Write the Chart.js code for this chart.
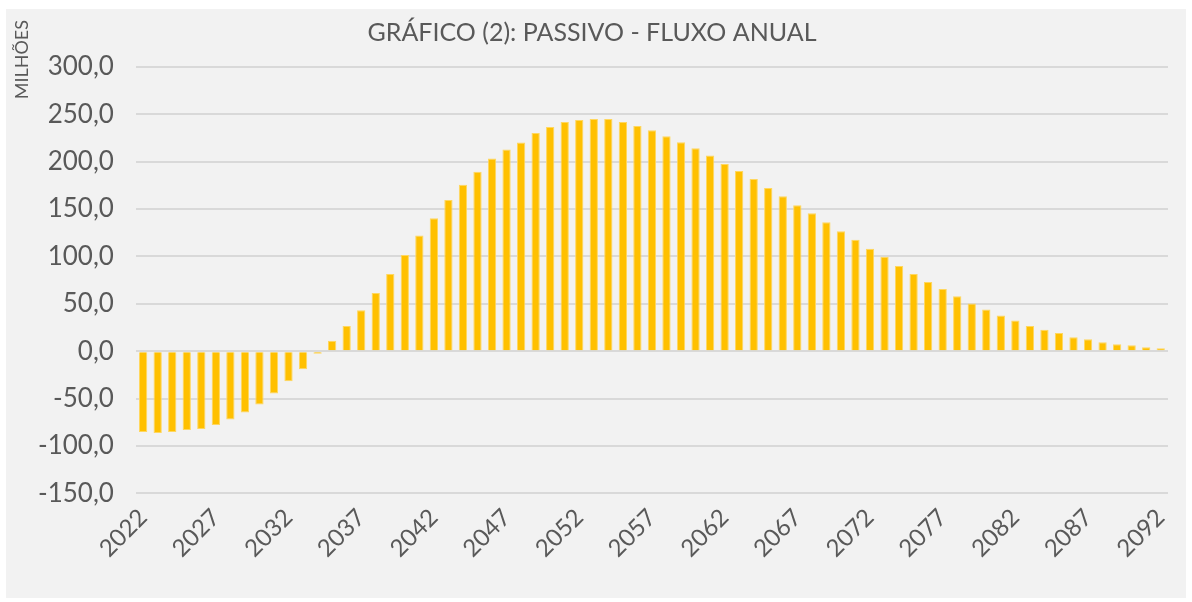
<!DOCTYPE html>
<html>
<head>
<meta charset="utf-8">
<script src="https://cdn.jsdelivr.net/npm/chart.js@4"></script>
<style>
  html, body { margin: 0; padding: 0; background: #ffffff; }
  #wrap { position: absolute; left: 6px; top: 9px; width: 1180px; height: 589px; background: #f2f2f2; }
</style>
</head>
<body>
<div id="wrap"><canvas id="fluxoChart"></canvas></div>
<script>
// Passivo - fluxo anual (milhões)
var firstYear = 2022;
var lastYear = 2092;
var years = [];
for (var y = firstYear; y <= lastYear; y++) years.push(String(y));

var fluxo = [
  -85.3, -86.4, -85.3, -83.2, -82.1, -77.9, -72.2, -64.8, -56.4, -44.7,
  -31.7, -19.0, -2.8, 10.9, 26.7, 43.1, 61.4, 81.5, 101.6, 122.0,
  140.4, 159.7, 175.6, 189.3, 203.4, 212.9, 220.4, 230.3, 236.6, 241.9,
  244.0, 245.1, 245.1, 242.0, 237.6, 233.3, 227.0, 220.6, 214.3, 206.5,
  197.7, 190.3, 181.8, 172.3, 163.5, 154.0, 145.5, 136.0, 126.5, 117.7,
  108.2, 99.7, 90.0, 81.5, 73.0, 65.7, 57.9, 50.4, 44.0, 37.7,
  32.4, 26.7, 22.5, 19.3, 14.8, 12.7, 9.5, 7.4, 6.3, 4.2,
  3.2
];

var yTitle = 'MILHÕES';

// unit label drawn rotated in the top-left corner, like the original
var unitLabel = {
    id: 'unitLabel',
    afterDraw: function (chart) {
        var c = chart.ctx;
        c.save();
        c.translate(16, chart.chartArea.top - 47);
        c.rotate(-Math.PI / 2);
        c.font = '18px Lato';
        c.fillStyle = '#595959';
        c.textAlign = 'right';
        c.textBaseline = 'middle';
        c.fillText(yTitle, 0, 0);
        c.restore();
    }
};

var ctx = document.getElementById('fluxoChart').getContext('2d');
var fluxoChart = new Chart(ctx, {
    type: 'bar',
    data: {
        labels: years,
        datasets: [{
            label: 'Passivo',
            data: fluxo,
            backgroundColor: '#ffc000',
            borderColor: '#ffd75e',
            borderWidth: 1,
            categoryPercentage: 1.0,
            barPercentage: 0.57
        }]
    },
    plugins: [unitLabel],
    options: {
        responsive: true,
        maintainAspectRatio: false,
        animation: false,
        layout: { padding: { left: 10, right: 18, top: 0, bottom: 33 } },
        plugins: {
            legend: { display: false },
            tooltip: { enabled: false },
            title: {
                display: true,
                text: 'GRÁFICO (2): PASSIVO - FLUXO ANUAL',
                color: '#595959',
                font: { family: 'Lato', size: 25, weight: 'normal' },
                padding: { top: 9, bottom: 19 }
            }
        },
        scales: {
            x: {
                grid: { display: false },
                border: { display: false },
                ticks: {
                    color: '#595959',
                    font: { family: 'Lato', size: 24 },
                    autoSkip: false,
                    maxRotation: 45,
                    minRotation: 45,
                    padding: 2,
                    callback: function (val, i) {
                        return i % 5 === 0 ? this.getLabelForValue(val) : '';
                    }
                }
            },
            y: {
                min: -150,
                max: 300,
                border: { display: false },
                grid: { color: '#d9d9d9', lineWidth: 2, drawTicks: false },
                ticks: {
                    stepSize: 50,
                    color: '#595959',
                    font: { family: 'Lato', size: 26 },
                    padding: 22,
                    callback: function (v) { return v.toFixed(1).replace('.', ','); }
                }
            }
        }
    }
});
</script>
</body>
</html>
